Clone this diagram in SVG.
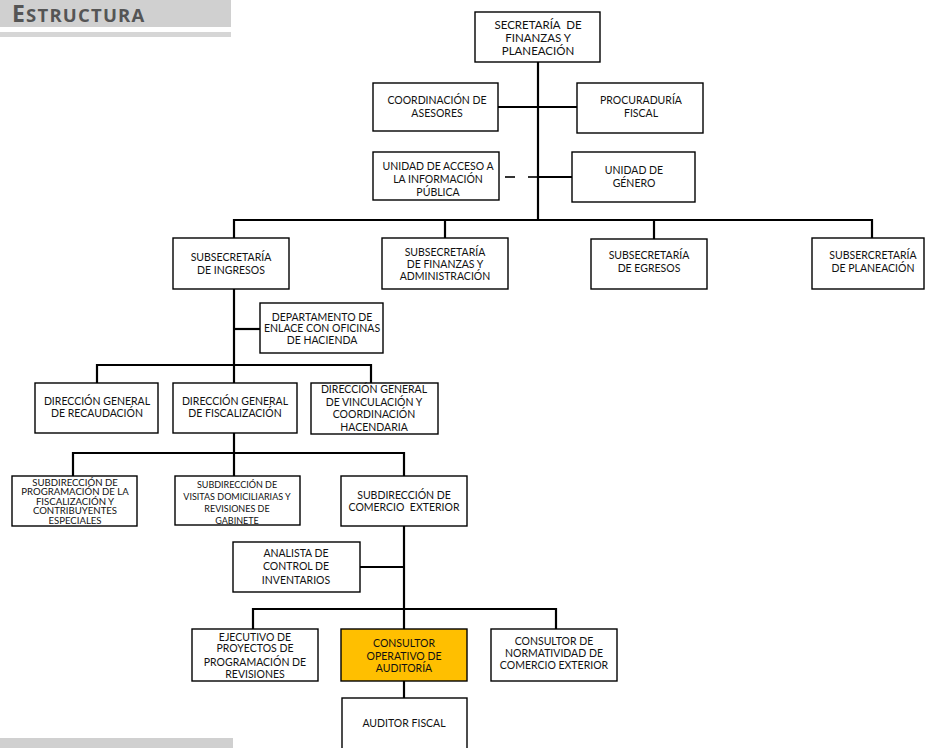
<svg xmlns="http://www.w3.org/2000/svg" width="925" height="748" viewBox="0 0 925 748">
<style>
.box{fill:#fff;stroke:#000;stroke-width:1.4}
.hl{fill:#FFBF00;stroke:#000;stroke-width:1.4}
.t{font-family:Lato,"Liberation Sans",sans-serif;font-size:10.5px;fill:#111;text-anchor:middle}
.s{font-size:9px}
.b{font-size:11.5px}
.p{font-size:9.6px}
.c line{stroke:#000;stroke-width:2.2;fill:none}
.hdr{font-family:"Open Sans",Lato,sans-serif;font-weight:bold;fill:#555}
</style>
<rect x="0" y="0" width="231" height="27" fill="#d0d0d0"/>
<text class="hdr" x="12" y="22" letter-spacing="1.2"><tspan font-size="23">E</tspan><tspan font-size="18.5">STRUCTURA</tspan></text>
<rect x="0" y="32" width="231" height="5" fill="#d6d6d6"/>
<rect x="0" y="738" width="233" height="10" fill="#d0d0d0"/>

<g class="c" id="connectors">
<line x1="538" y1="62" x2="538" y2="220"/>
<line x1="498" y1="107" x2="577" y2="107"/>
<line x1="538" y1="177" x2="572" y2="177"/>
<line x1="505" y1="177" x2="515" y2="177" style="stroke-width:1.6"/>
<line x1="528" y1="177" x2="538" y2="177" style="stroke-width:1.6"/>
<line x1="233" y1="220" x2="873" y2="220"/>
<line x1="234" y1="219" x2="234" y2="238"/>
<line x1="445" y1="219" x2="445" y2="238"/>
<line x1="654" y1="219" x2="654" y2="239"/>
<line x1="872" y1="219" x2="872" y2="238"/>
<line x1="234" y1="289" x2="234" y2="383"/>
<line x1="234" y1="329" x2="260" y2="329"/>
<line x1="96" y1="365" x2="372" y2="365"/>
<line x1="97" y1="364" x2="97" y2="383"/>
<line x1="371" y1="364" x2="371" y2="383"/>
<line x1="234" y1="433" x2="234" y2="453"/>
<line x1="72" y1="453" x2="405" y2="453"/>
<line x1="73" y1="452" x2="73" y2="476"/>
<line x1="234" y1="452" x2="234" y2="476"/>
<line x1="404" y1="452" x2="404" y2="476"/>
<line x1="404" y1="526" x2="404" y2="629"/>
<line x1="360" y1="567" x2="404" y2="567"/>
<line x1="252" y1="609" x2="557" y2="609"/>
<line x1="253" y1="608" x2="253" y2="629"/>
<line x1="556" y1="608" x2="556" y2="629"/>
<line x1="404" y1="681" x2="404" y2="698"/>
</g>

<g id="secretaria"><rect class="box" x="475" y="12" width="125" height="50"/>
<text class="t b" x="538" y="29" xml:space="preserve">SECRETARÍA  DE</text><text class="t b" x="538" y="42">FINANZAS Y</text><text class="t b" x="538" y="55">PLANEACIÓN</text></g>
<g id="coordinacion"><rect class="box" x="373" y="83" width="125" height="48"/>
<text class="t" x="437" y="104">COORDINACIÓN DE</text><text class="t" x="437" y="117">ASESORES</text></g>
<g id="procuraduria"><rect class="box" x="577" y="83" width="126" height="50"/>
<text class="t" x="641" y="104">PROCURADURÍA</text><text class="t" x="641" y="117">FISCAL</text></g>
<g id="unidad-acceso"><rect class="box" x="373" y="152" width="126" height="48"/>
<text class="t" x="438" y="170">UNIDAD DE ACCESO A</text><text class="t" x="438" y="183">LA INFORMACIÓN</text><text class="t" x="438" y="196">PÚBLICA</text></g>
<g id="unidad-genero"><rect class="box" x="572" y="152" width="123" height="50"/>
<text class="t" x="634" y="174">UNIDAD DE</text><text class="t" x="634" y="187">GÉNERO</text></g>

<g id="sub-ingresos"><rect class="box" x="173" y="238" width="116" height="51"/>
<text class="t" x="231" y="261">SUBSECRETARÍA</text><text class="t" x="231" y="274">DE INGRESOS</text></g>
<g id="sub-finanzas"><rect class="box" x="382" y="238" width="126" height="51"/>
<text class="t" x="445" y="256">SUBSECRETARÍA</text><text class="t" x="445" y="268">DE FINANZAS Y</text><text class="t" x="445" y="280">ADMINISTRACIÓN</text></g>
<g id="sub-egresos"><rect class="box" x="591" y="239" width="116" height="50"/>
<text class="t" x="649" y="259">SUBSECRETARÍA</text><text class="t" x="649" y="272">DE EGRESOS</text></g>
<g id="sub-planeacion"><rect class="box" x="812" y="238" width="112" height="51"/>
<text class="t" x="873" y="259">SUBSERCRETARÍA</text><text class="t" x="873" y="272">DE PLANEACIÓN</text></g>

<g id="depto-enlace"><rect class="box" x="260" y="303" width="123" height="50"/>
<text class="t" x="322" y="321">DEPARTAMENTO DE</text><text class="t" x="322" y="332">ENLACE CON OFICINAS</text><text class="t" x="322" y="344">DE HACIENDA</text></g>

<g id="dg-recaudacion"><rect class="box" x="35" y="383" width="123" height="50"/>
<text class="t" x="97" y="405">DIRECCIÓN GENERAL</text><text class="t" x="97" y="417">DE RECAUDACIÓN</text></g>
<g id="dg-fiscalizacion"><rect class="box" x="173" y="383" width="124" height="50"/>
<text class="t" x="235" y="405">DIRECCIÓN GENERAL</text><text class="t" x="235" y="417">DE FISCALIZACIÓN</text></g>
<g id="dg-vinculacion"><rect class="box" x="311" y="383" width="127" height="51"/>
<text class="t" x="374" y="393">DIRECCIÓN GENERAL</text><text class="t" x="374" y="406">DE VINCULACIÓN Y</text><text class="t" x="374" y="418">COORDINACIÓN</text><text class="t" x="374" y="431">HACENDARIA</text></g>

<g id="sd-programacion"><rect class="box" x="12" y="476" width="125" height="50"/>
<text class="t p" x="75" y="485.5">SUBDIRECCIÓN DE</text><text class="t p" x="75" y="495">PROGRAMACIÓN DE LA</text><text class="t p" x="75" y="504.5">FISCALIZACIÓN Y</text><text class="t p" x="75" y="514">CONTRIBUYENTES</text><text class="t p" x="75" y="524">ESPECIALES</text></g>
<g id="sd-visitas"><rect class="box" x="175" y="476" width="125" height="49"/>
<text class="t s" x="237" y="488">SUBDIRECCIÓN DE</text><text class="t s" x="237" y="500">VISITAS DOMICILIARIAS Y</text><text class="t s" x="237" y="512">REVISIONES DE</text><text class="t s" x="237" y="524">GABINETE</text></g>
<g id="sd-comercio"><rect class="box" x="341" y="476" width="126" height="50"/>
<text class="t" x="404" y="499">SUBDIRECCIÓN DE</text><text class="t" x="404" y="511" xml:space="preserve">COMERCIO  EXTERIOR</text></g>

<g id="analista"><rect class="box" x="233" y="542" width="127" height="50"/>
<text class="t" x="296" y="557">ANALISTA DE</text><text class="t" x="296" y="570">CONTROL DE</text><text class="t" x="296" y="584">INVENTARIOS</text></g>

<g id="ejecutivo"><rect class="box" x="192" y="629" width="126" height="52"/>
<text class="t" x="255" y="641">EJECUTIVO DE</text><text class="t" x="255" y="652">PROYECTOS DE</text><text class="t" x="255" y="666">PROGRAMACIÓN DE</text><text class="t" x="255" y="678">REVISIONES</text></g>
<g id="consultor-operativo"><rect class="hl" x="341" y="629" width="126" height="52"/>
<text class="t" x="404" y="647">CONSULTOR</text><text class="t" x="404" y="660">OPERATIVO DE</text><text class="t" x="404" y="672">AUDITORÍA</text></g>
<g id="consultor-normatividad"><rect class="box" x="491" y="629" width="126" height="52"/>
<text class="t" x="554" y="645">CONSULTOR DE</text><text class="t" x="554" y="657">NORMATIVIDAD DE</text><text class="t" x="554" y="669">COMERCIO EXTERIOR</text></g>
<g id="auditor"><rect class="box" x="342" y="698" width="125" height="60"/>
<text class="t" x="404" y="727">AUDITOR FISCAL</text></g>
</svg>
